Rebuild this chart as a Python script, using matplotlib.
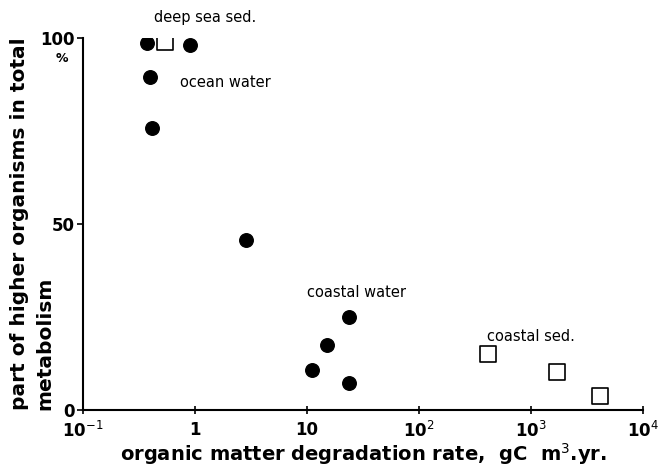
import matplotlib
matplotlib.use('Agg')
import matplotlib.pyplot as plt

plt.rcParams['font.family'] = ['DejaVu Sans']

# 数据：有机物降解速率 与 高等生物所占比例
water_x = [0.37, 0.90, 0.40, 0.41, 2.85, 23.7, 15.1, 11.1, 23.7]
water_y = [98.7, 98.1, 89.5, 75.8, 45.7, 25.0, 17.5, 10.8, 7.3]
sed_x = [0.54, 413, 1700, 4130]
sed_y = [98.9, 15.1, 10.2, 3.8]

xticks = [0.1, 1, 10, 100, 1000, 10000]
xtick_labels = ['10$^{-1}$', '1', '10', '10$^2$', '10$^3$', '10$^4$']
yticks = [0, 50, 100]

labels = ['deep sea sed.', 'ocean water', 'coastal water', 'coastal sed.']
label_x = [1.23, 0.73, 10, 405]
label_y = [105.6, 88.2, 31.7, 19.9]

fig = plt.figure(figsize=(6.66, 4.66), dpi=100)
ax = fig.add_axes([0.1246, 0.120, 0.841, 0.798])

ax.scatter(water_x, water_y, s=95, c='black', marker='o', zorder=3)
ax.scatter(sed_x, sed_y, s=130, facecolors='white', edgecolors='black',
           marker='s', linewidths=1.2, zorder=3)

for t, x, y in zip(labels, label_x, label_y):
    ha = 'center' if t == 'deep sea sed.' else 'left'
    ax.text(x, y, t, fontsize=10.5, ha=ha, va='center', clip_on=False)

ax.set_xscale('log')
ax.set_xlim(0.1, 10000)
ax.set_ylim(0, 100)
ax.set_xticks(xticks)
ax.set_xticklabels(xtick_labels, fontsize=12, fontweight='bold')
ax.minorticks_off()
ax.set_yticks(yticks)
ax.set_yticklabels([str(v) for v in yticks], fontsize=12, fontweight='bold')
ax.tick_params(axis='x', direction='inout', length=6, width=1.2, pad=5)
ax.tick_params(axis='y', direction='out', length=4, width=1.2, pad=2)

for s in ['top', 'right']:
    ax.spines[s].set_visible(False)
for s in ['left', 'bottom']:
    ax.spines[s].set_linewidth(1.5)

ax.text(-0.0375, 0.946, '%', transform=ax.transAxes, fontsize=9,
        fontweight='bold', ha='center', va='center')

ax.set_xlabel('organic matter degradation rate,  gC  m$^3$.yr.', fontsize=14,
              fontweight='bold', labelpad=0)
# y轴标题分两行，左对齐
ax.text(-0.1125, 0.0, 'part of higher organisms in total', transform=ax.transAxes,
        rotation=90, fontsize=14.5, fontweight='bold', ha='center', va='bottom')
ax.text(-0.068, 0.0, 'metabolism', transform=ax.transAxes,
        rotation=90, fontsize=14.5, fontweight='bold', ha='center', va='bottom')

fig.savefig('out.png', dpi=100)
